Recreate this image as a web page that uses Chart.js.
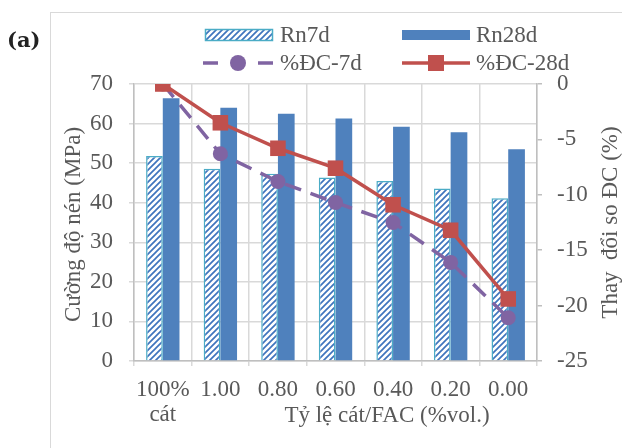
<!DOCTYPE html>
<html>
<head>
<meta charset="utf-8">
<script src="https://cdn.jsdelivr.net/npm/chart.js@4"></script>
<style>
  body { margin: 0; background: #fff; }
  canvas { display: block; }
</style>
</head>
<body>
<canvas id="myChart" width="622" height="448"></canvas>
<script>
// dữ liệu
const categories = [['100%', 'cát'], '1.00', '0.80', '0.60', '0.40', '0.20', '0.00'];
const rn7d = [51.8, 48.6, 47.3, 46.4, 45.5, 43.6, 41.1];
const rn28d = [66.4, 64.0, 62.5, 61.3, 59.2, 57.8, 53.5];
const dc7d = [0, -6.3, -8.8, -10.7, -12.5, -16.1, -21.1];
const dc28d = [0, -3.5, -5.8, -7.6, -10.9, -13.2, -19.4];
const leftTicks = [0, 70, 10];
const rightTicks = [-25, 0, 5];

const FONT = '"Liberation Serif", "Times New Roman", serif';
const TXT = '#595959';
const GRID = '#d9d9d9';
const BLUE = '#4F81BD';
const TEAL = '#4BACC6';
const RED = '#C0504D';
const PURPLE = '#8064A2';

function makeHatch() {
    const c = document.createElement('canvas');
    c.width = 6; c.height = 6;
    const g = c.getContext('2d');
    g.fillStyle = '#fff';
    g.fillRect(0, 0, 6, 6);
    g.strokeStyle = '#3f74bd';
    g.lineWidth = 1.7;
    g.beginPath();
    g.moveTo(0, 6); g.lineTo(6, 0);
    g.moveTo(-1, 1); g.lineTo(1, -1);
    g.moveTo(5, 7); g.lineTo(7, 5);
    g.stroke();
    return g.createPattern(c, 'repeat');
}
const hatch = makeHatch();

// khung, chú thích, tiêu đề trục
const decor = {
    id: 'decor',
    beforeDraw(chart) {
        const ctx = chart.ctx;
        ctx.save();
        ctx.fillStyle = '#fff';
        ctx.fillRect(0, 0, chart.width, chart.height);
        ctx.strokeStyle = GRID;
        ctx.lineWidth = 1;
        ctx.strokeRect(50.5, 12.5, 700, 600);
        ctx.restore();
    },
    afterDraw(chart) {
        const ctx = chart.ctx;
        const a = chart.chartArea;
        ctx.save();
        ctx.fillStyle = '#222';
        ctx.font = 'bold 21px "DejaVu Serif", serif';
        ctx.textBaseline = 'alphabetic';
        ctx.fillText('(a)', 7, 47);

        ctx.fillStyle = TXT;
        ctx.font = '23px ' + FONT;
        // x title
        ctx.textAlign = 'center';
        ctx.fillText('Tỷ lệ cát/FAC (%vol.)', a.left + 253, 422);
        // y titles
        ctx.save();
        ctx.translate(80, (a.top + a.bottom) / 2 + 2);
        ctx.rotate(-Math.PI / 2);
        ctx.fillText('Cường độ nén (MPa)', 0, 0);
        ctx.restore();
        ctx.save();
        ctx.translate(617, (a.top + a.bottom) / 2);
        ctx.rotate(-Math.PI / 2);
        ctx.fillText('Thay  đổi so ĐC (%)', 0, 0);
        ctx.restore();

        // legend
        ctx.textAlign = 'left';
        ctx.fillStyle = hatch;
        ctx.fillRect(205, 29, 68, 12);
        ctx.strokeStyle = TEAL;
        ctx.lineWidth = 1.5;
        ctx.strokeRect(205.5, 29.5, 67, 11);
        ctx.fillStyle = BLUE;
        ctx.fillRect(402, 30, 68, 10);

        ctx.strokeStyle = PURPLE;
        ctx.lineWidth = 3.5;
        ctx.beginPath();
        ctx.moveTo(203, 63); ctx.lineTo(218, 63);
        ctx.moveTo(258, 63); ctx.lineTo(273, 63);
        ctx.stroke();
        ctx.fillStyle = PURPLE;
        ctx.beginPath();
        ctx.arc(238, 63, 8, 0, Math.PI * 2);
        ctx.fill();

        ctx.strokeStyle = RED;
        ctx.beginPath();
        ctx.moveTo(402, 63); ctx.lineTo(470, 63);
        ctx.stroke();
        ctx.fillStyle = RED;
        ctx.fillRect(428, 55, 16, 16);

        ctx.fillStyle = TXT;
        ctx.fillText('Rn7d', 280, 42);
        ctx.fillText('Rn28d', 476, 42);
        ctx.fillText('%ĐC-7d', 280, 70);
        ctx.fillText('%ĐC-28d', 476, 70);
        ctx.restore();
    }
};

const ctx = document.getElementById('myChart');
new Chart(ctx, {
    data: {
        labels: categories,
        datasets: [
            {
                type: 'line', label: '%ĐC-28d', data: dc28d, yAxisID: 'y1', order: 0,
                borderColor: RED, backgroundColor: RED, borderWidth: 3.5,
                pointStyle: 'rect', pointRadius: 11, pointBorderWidth: 0,
                tension: 0
            },
            {
                type: 'line', label: '%ĐC-7d', data: dc7d, yAxisID: 'y1', order: 1,
                borderColor: PURPLE, backgroundColor: PURPLE, borderWidth: 3.5,
                borderDash: [17, 10],
                pointStyle: 'circle', pointRadius: 7.5, pointBorderWidth: 0,
                tension: 0
            },
            {
                type: 'bar', label: 'Rn7d', data: rn7d, yAxisID: 'y', order: 2,
                backgroundColor: hatch, borderColor: TEAL, borderWidth: 1.5,
                categoryPercentage: 0.58, barPercentage: 1
            },
            {
                type: 'bar', label: 'Rn28d', data: rn28d, yAxisID: 'y', order: 3,
                backgroundColor: BLUE, borderWidth: 0,
                categoryPercentage: 0.58, barPercentage: 1
            }
        ]
    },
    options: {
        responsive: false,
        animation: false,
        layout: { padding: { top: 84, left: 0, right: 0, bottom: 0 } },
        plugins: {
            legend: { display: false },
            tooltip: { enabled: false }
        },
        scales: {
            x: {
                afterFit: s => { s.height = 87; },
                grid: { color: GRID, lineWidth: 1.5, tickLength: 5, offset: true },
                border: { color: '#bfbfbf', width: 1.5 },
                ticks: {
                    color: TXT, padding: 11, maxRotation: 0, autoSkip: false,
                    font: { family: FONT, size: 23, lineHeight: 1.1 }
                }
            },
            y: {
                position: 'left',
                min: leftTicks[0], max: leftTicks[1],
                afterFit: s => { s.width = 134; },
                grid: { color: GRID, lineWidth: 1.5, tickLength: 5 },
                border: { color: '#bfbfbf', width: 1.5 },
                ticks: {
                    stepSize: leftTicks[2], color: TXT, padding: 16,
                    font: { family: FONT, size: 23 }
                }
            },
            y1: {
                position: 'right',
                min: rightTicks[0], max: rightTicks[1],
                afterFit: s => { s.width = 85; },
                grid: { drawOnChartArea: false, color: '#bfbfbf', lineWidth: 1.5, tickLength: 5 },
                border: { color: '#bfbfbf', width: 1.5 },
                ticks: {
                    stepSize: rightTicks[2], color: TXT, padding: 15,
                    font: { family: FONT, size: 23 }
                }
            }
        }
    },
    plugins: [decor]
});
</script>
</body>
</html>
